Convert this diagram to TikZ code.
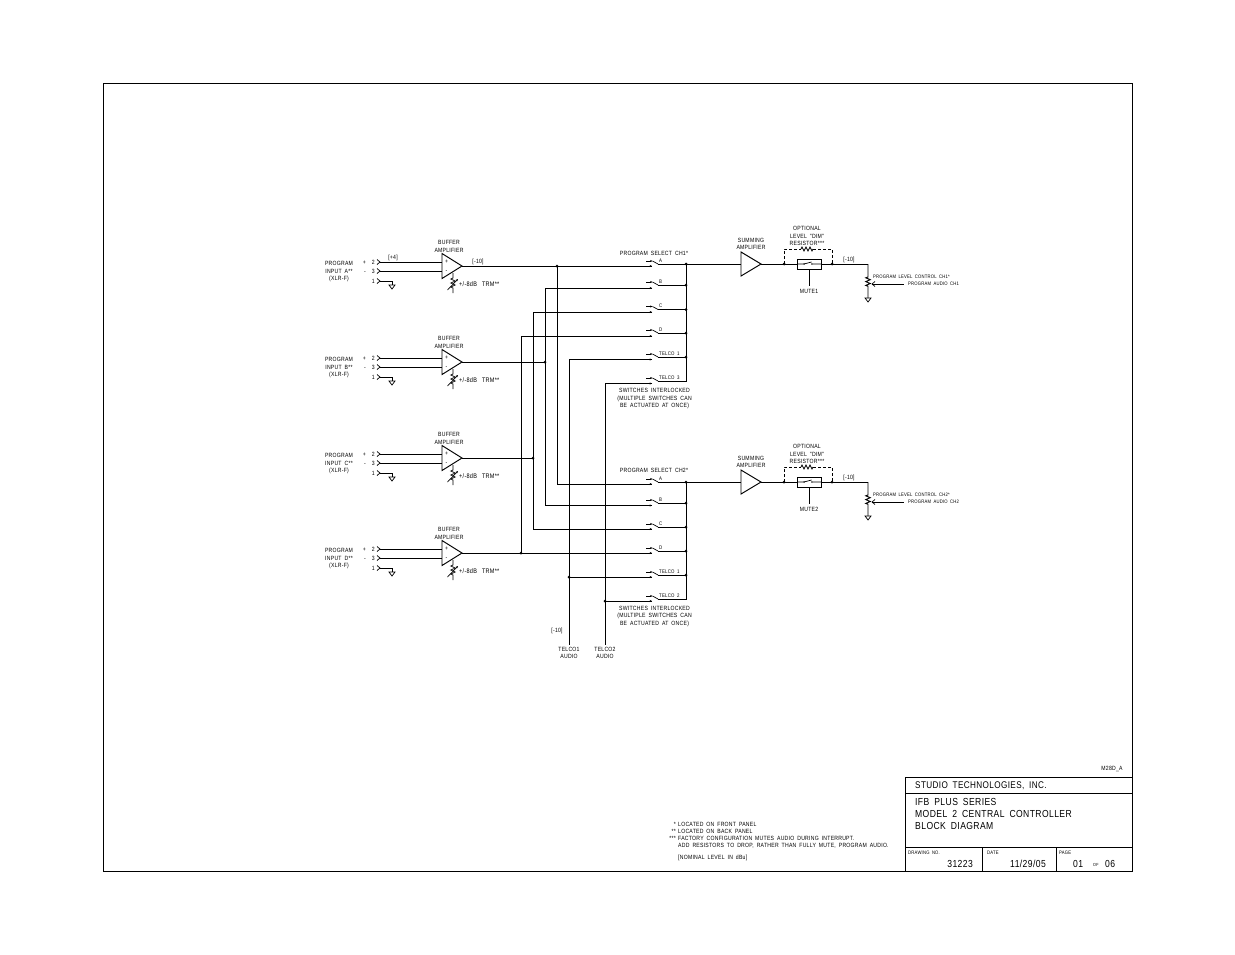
\documentclass[tikz,border=0pt]{standalone}
\usepackage{fontspec}
\usetikzlibrary{arrows.meta}
\newfontfamily\cad[FakeStretch=0.84,LetterSpace=4,WordSpace=1.8]{Liberation Sans}
\newcommand{\cadsize}[2]{\cad\fontsize{#1}{#2}\selectfont}
\tikzset{
  wire/.style={line width=0.95pt,black},
  thin wire/.style={line width=0.7pt,black},
  lbl/.style={font=\cadsize{6.1}{7.5},inner sep=0pt,align=center,text=black},
  lbll/.style={lbl,anchor=west,align=left},
  lblr/.style={lbl,anchor=east},
  tiny lbl/.style={font=\cadsize{5}{6},inner sep=0pt,anchor=west,text=black},
  title lbl/.style={font=\cadsize{10.2}{12},inner sep=0pt,anchor=west,text=black},
  dot/.style={circle,fill=black,inner sep=0pt,minimum size=3pt},
  tinyarrow/.style={-{Stealth[length=2.4pt,width=2pt]},thin wire},
}
\begin{document}
\begin{tikzpicture}[x=1pt,y=-1pt]
\useasboundingbox (0,0) rectangle (1235,954);
\fill[white] (0,0) rectangle (1235,954);
% sheet frame
\draw[line width=1pt] (103,83) rectangle (1132,871);
% title block
\draw[line width=1pt] (905,871) -- (905,777) -- (1132,777);
\draw[line width=1pt] (905,793) -- (1132,793);
\draw[line width=1pt] (905,847) -- (1132,847);
\draw[line width=1pt] (982,847) -- (982,871);
\draw[line width=1pt] (1056,847) -- (1056,871);
\node[lbl] (rev) at (1112,769) {M28D\_A};
\node[title lbl,font=\cadsize{9.7}{12}] (t1) at (915,785.5) {STUDIO TECHNOLOGIES, INC.};
\node[title lbl] (t2) at (915,801.5) {IFB PLUS SERIES};
\node[title lbl] (t3) at (915,814) {MODEL 2 CENTRAL CONTROLLER};
\node[title lbl] (t4) at (915,826) {BLOCK DIAGRAM};
\node[tiny lbl] (l1) at (908,853) {DRAWING NO.};
\node[tiny lbl] (l2) at (987,853) {DATE};
\node[tiny lbl] (l3) at (1059,853) {PAGE};
\node[title lbl,anchor=east] (v1) at (973,864) {31223};
\node[title lbl,anchor=east] (v2) at (1046,864) {11/29/05};
\node[title lbl] (v3) at (1073,864) {01};
\node[tiny lbl,font=\cadsize{4.4}{5}] (v4) at (1093,865) {OF};
\node[title lbl] (v5) at (1105,864) {06};
% notes
\node[lblr] (n1s) at (676,824) {*};
\node[lbll] (n1) at (678,824) {LOCATED ON FRONT PANEL};
\node[lblr] (n2s) at (676,831) {**};
\node[lbll] (n2) at (678,831) {LOCATED ON BACK PANEL};
\node[lblr] (n3s) at (676,838) {***};
\node[lbll] (n3) at (678,838) {FACTORY CONFIGURATION MUTES AUDIO DURING INTERRUPT.};
\node[lbll] (n4) at (678,845.5) {ADD RESISTORS TO DROP, RATHER THAN FULLY MUTE, PROGRAM AUDIO.};
\node[lbll] (n5) at (678,858) {[NOMINAL LEVEL IN dBu]};
% buffer amplifiers
\foreach \n/\ty/\L/\xo in {a/266/A/1,b/362/B/1,c/458/C/1,d/553/D/1}{
\begin{scope}[shift={(0,\ty)}]
  \coordinate (\n-out) at (462,0);
  \coordinate (\n-p) at (442,-4);
  \coordinate (\n-m) at (442,5);
  \draw[wire,line join=miter] (442,-12.5) -- (\n-out) -- (442,12.5) -- cycle;
  \node[lbl] (\n-plus) at (446.5,-4) {+};
  \node[lbl] (\n-minus) at (446.5,6) {-};
  \node[lbl] (\n-title) at (449,-19.5) {BUFFER\\AMPLIFIER};
  \node[lbl] (\n-name) at (339,5.5) {PROGRAM\\INPUT \L**\\(XLR-F)};
  \node[lblr] (\n-l2) at (375,-4) {+\ \ 2};
  \node[lblr] (\n-l3) at (375,5) {-\ \ 3};
  \node[lblr] (\n-l1) at (375,15) {1};
  \foreach \yy in {-4,5,15}{\draw[thin wire] (377,\yy-2.5) -- (380,\yy) -- (377,\yy+2.5);}
  \coordinate (\n-i2) at (380,-4);
  \coordinate (\n-i3) at (380,5);
  \coordinate (\n-i1) at (380,15);
  \draw[wire] (\n-i2) -- (\n-p);
  \draw[wire] (\n-i3) -- (\n-m);
  \draw[thin wire] (\n-i1) -- (392,15) -- (392,19);
  \draw[thin wire] (389,19) -- (395,19) -- (392,23) -- cycle;
  % trim
  \draw[thin wire] (453,7) -- (453,12) -- ++(-2.2,1) -- ++(4.4,2) -- ++(-4.4,2) -- ++(4.4,2) -- ++(-4.4,2) -- ++(2.2,1) -- (453,27);
  \draw[tinyarrow] (447.5,24) -- (458,13);
  \node[lbll,font=\cadsize{6.6}{8}] (\n-trim) at (459,18.5) {+/-8dB\hspace{5pt}TRM**};
\end{scope}}
\node[lbl] (lp4) at (393,257.5) {[+4]};
\node[lbl] (lm10) at (478,262) {[-10]};
% bus positions
\coordinate (xA) at (557,0);
\coordinate (xB) at (545,0);
\coordinate (xC) at (533,0);
\coordinate (xD) at (521,0);
\coordinate (xE) at (569,0);
\coordinate (xF) at (605,0);
\coordinate (xO) at (686,0);
% switches
\foreach \c/\n/\yo/\yi/\txt in {1/a/264/266/A,1/b/285/288/B,1/c/309.5/312/C,1/d/333/336/D,1/e/357/359.5/TELCO 1,1/f/381/383.5/TELCO 3,
                                2/a/482/484/A,2/b/503/505.5/B,2/c/527/529/C,2/d/551/553/D,2/e/575/577/TELCO 1,2/f/599/601/TELCO 2}{
  \coordinate (s\c\n-in) at (652,\yi);
  \coordinate (s\c\n-out) at (658,\yo);
  \draw[tinyarrow] (646,\yo-3) -- (652.5,\yo-3);
  \draw[tinyarrow] (649,\yi) -- (s\c\n-in);
  \draw[thin wire] (652.5,\yo-3) -- (s\c\n-out);
  \node[lbl,font=\cadsize{5.2}{6},anchor=west] (s\c\n-txt) at (659,\yo-3.5) {\txt};
}
% buffer to switch wiring
\draw[wire] (a-out) -- (s1a-in);
\draw[wire] (s1a-in -| xA) -- (s2a-in -| xA) -- (s2a-in);
\node[dot] (ja) at (s1a-in -| xA) {};
\draw[wire] (b-out) -- (b-out -| xB);
\draw[wire] (s1b-in) -- (s1b-in -| xB) -- (s2b-in -| xB) -- (s2b-in);
\node[dot] (jb) at (b-out -| xB) {};
\draw[wire] (c-out) -- (c-out -| xC);
\draw[wire] (s1c-in) -- (s1c-in -| xC) -- (s2c-in -| xC) -- (s2c-in);
\node[dot] (jc) at (c-out -| xC) {};
\draw[wire] (d-out) -- (s2d-in);
\draw[wire] (s1d-in) -- (s1d-in -| xD) -- (d-out -| xD);
\node[dot] (jd) at (d-out -| xD) {};
% telco feeds
\coordinate (t1end) at (569,645);
\coordinate (t2end) at (605,645);
\draw[wire] (s1e-in) -- (s1e-in -| xE) -- (t1end);
\draw[wire] (s2e-in -| xE) -- (s2e-in);
\node[dot] (je) at (s2e-in -| xE) {};
\draw[wire] (s1f-in) -- (s1f-in -| xF) -- (t2end);
\draw[wire] (s2f-in -| xF) -- (s2f-in);
\node[dot] (jf) at (s2f-in -| xF) {};
\node[lbl] (tl10) at (557,630.5) {[-10]};
\node[lbl] (tl1) at (569,653) {TELCO1\\AUDIO};
\node[lbl] (tl2) at (605,653) {TELCO2\\AUDIO};
% output combining buses
\foreach \c in {1,2}{
  \foreach \n in {a,b,c,d,e}{
    \draw[wire] (s\c\n-out) -- (s\c\n-out -| xO);
    \node[dot] (o\c\n) at (s\c\n-out -| xO) {};
  }
  \draw[wire] (s\c a-out -| xO) -- (s\c f-out -| xO) -- (s\c f-out);
}
\node[lbl] (ps1) at (654,253) {PROGRAM SELECT CH1*};
\node[lbl] (ps2) at (654,470.5) {PROGRAM SELECT CH2*};
\node[lbl] (nt1) at (654.5,398.5) {SWITCHES INTERLOCKED\\(MULTIPLE SWITCHES CAN\\BE ACTUATED AT ONCE)};
\node[lbl] (nt2) at (654.5,616) {SWITCHES INTERLOCKED\\(MULTIPLE SWITCHES CAN\\BE ACTUATED AT ONCE)};
% summing stages
\foreach \c/\y in {1/264,2/482}{
\begin{scope}[shift={(0,\y)}]
  \coordinate (sum\c-in) at (741,0);
  \coordinate (sum\c-out) at (761,0);
  \draw[wire,line join=miter] (741,-12) -- (sum\c-out) -- (741,12) -- cycle;
  \node[lbl] (sum\c-t) at (751,-20) {SUMMING\\AMPLIFIER};
  \node[lbl] (opt\c) at (807,-28) {OPTIONAL\\LEVEL "DIM"\\RESISTOR***};
  \coordinate (d\c-l) at (784,0);
  \coordinate (d\c-r) at (832,0);
  \coordinate (m\c-l) at (797,0);
  \coordinate (m\c-r) at (821,0);
  \coordinate (lev\c) at (868,0);
  \draw[wire] (sum\c-out) -- (m\c-l);
  \draw[wire] (m\c-r) -- (lev\c);
  \draw[wire] (797,-5) rectangle (821,5);
  \draw[thin wire] (m\c-l) -- (803,0) (811.5,-2) -- (804,0) (813,0) -- (m\c-r);
  \fill (804,0) circle (0.9pt) (812,0) circle (0.9pt);
  \draw[thin wire,dash pattern=on 3pt off 2pt] (d\c-l) -- (784,-15) -- (801,-15);
  \draw[thin wire,dash pattern=on 3pt off 2pt] (813,-15) -- (832,-15) -- (d\c-r);
  \draw[thin wire] (801,-15) -- ++(1,-2) -- ++(2,4) -- ++(2,-4) -- ++(2,4) -- ++(2,-4) -- ++(2,4) -- ++(1,-2);
  \node[dot] (dl\c) at (d\c-l) {};
  \node[dot] (dr\c) at (d\c-r) {};
  \draw[wire] (809,5) -- (809,22);
  \node[lbl] (mu\c) at (809,27) {MUTE\c};
  \node[lbl] (lv\c) at (849,-4) {[-10]};
  \draw[wire] (lev\c) -- (868,13) -- ++(-2.2,0.8) -- ++(4.4,1.9) -- ++(-4.4,1.9) -- ++(4.4,1.9) -- ++(-4.4,1.9) -- ++(2.2,.8) -- (868,34);
  \draw[thin wire] (865,34) -- (871,34) -- (868,38) -- cycle;
  \draw[thin wire] (875,17.5) -- (872,20) -- (875,22.5);
  \draw[thin wire] (872,20) -- (904,20);
  \node[tiny lbl] (ctl\c) at (873,13) {PROGRAM LEVEL CONTROL CH\c*};
  \node[tiny lbl] (aud\c) at (908,20) {PROGRAM AUDIO CH\c};
\end{scope}
  \draw[wire] (s\c a-out -| xO) -- (sum\c-in);
}
\end{tikzpicture}
\end{document}
